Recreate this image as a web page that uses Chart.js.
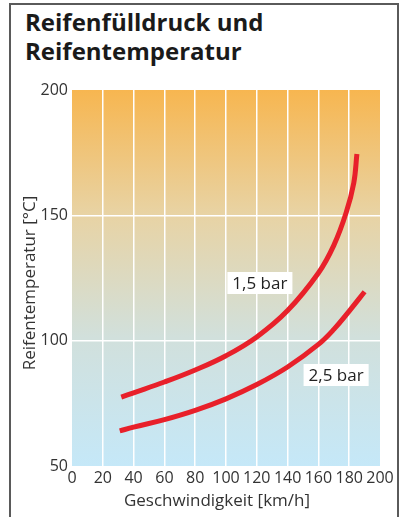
<!DOCTYPE html>
<html lang="de">
<head>
  <meta charset="UTF-8" />
  <title>Reifenfülldruck und Reifentemperatur</title>
  <script src="https://cdn.jsdelivr.net/npm/chart.js"></script>
  <style>
    html, body { margin: 0; padding: 0; background: #fff; overflow: hidden; }
    body { width: 404px; height: 517px; position: relative; font-family: "Open Sans", sans-serif; }
    .frame {
      position: absolute; left: 9px; top: 3px; width: 390px; height: 600px;
      border: 2px solid #5a5a5a; box-sizing: border-box;
    }
    h1 {
      position: absolute; left: 25px; top: 7px; margin: 0;
      font: bold 24px/29px "Open Sans", sans-serif; color: #1a1a1a;
    }
    canvas { position: absolute; left: 0; top: 0; }
  </style>
</head>
<body>
  <div class="frame"></div>
  <h1>Reifenfülldruck und<br>Reifentemperatur</h1>
  <canvas id="tyreChart" width="404" height="517"></canvas>

  <script>
    // values
    const speed15 = [32, 40, 60, 80, 100, 120, 140, 160, 170, 178, 183, 185];
    const temp15 = [77.5, 79.2, 83.5, 88.3, 94, 101.5, 112, 127, 138, 151, 163, 174.5];
    const speed25 = [31, 40, 60, 80, 100, 120, 140, 160, 170, 180, 190];
    const temp25 = [64, 65.5, 68.5, 72.2, 76.8, 82.5, 89.5, 98.5, 104.5, 111.8, 119.5];
    const seriesNames = ['1,5 bar', '2,5 bar'];
    const xTicks = [0, 20, 40, 60, 80, 100, 120, 140, 160, 180, 200];
    const yTicks = [50, 100, 150, 200];

    const toPoints = (xs, ys) => xs.map((x, i) => ({ x: x, y: ys[i] }));
    const tickFont = { family: 'Open Sans', size: 16 };

    // gradient background + axis titles + series labels
    const decor = {
      id: 'decor',
      beforeDraw(chart) {
        const { ctx, chartArea: a } = chart;
        const g = ctx.createLinearGradient(0, a.top, 0, a.bottom);
        g.addColorStop(0, '#f7b650');
        g.addColorStop(0.33, '#e8d3a4');
        g.addColorStop(0.66, '#d1e0dc');
        g.addColorStop(1, '#c5e8f8');
        ctx.save();
        ctx.fillStyle = g;
        ctx.fillRect(a.left, a.top, a.right - a.left, a.bottom - a.top);
        ctx.restore();
      },
      afterDraw(chart) {
        const { ctx, scales } = chart;
        ctx.save();
        ctx.fillStyle = '#333';
        ctx.font = '17px "Open Sans"';
        ctx.textAlign = 'center';
        ctx.textBaseline = 'middle';
        ctx.fillText('Geschwindigkeit [km/h]', 217, 501);
        ctx.translate(30, 283);
        ctx.rotate(-Math.PI / 2);
        ctx.fillText('Reifentemperatur [°C]', 0, 0);
        ctx.restore();

        const tags = [[seriesNames[0], 122, 123], [seriesNames[1], 171.5, 86.3]];
        ctx.save();
        ctx.font = '17px "Open Sans"';
        ctx.textAlign = 'center';
        ctx.textBaseline = 'middle';
        tags.forEach(([txt, xv, yv]) => {
          const px = scales.x.getPixelForValue(xv);
          const py = scales.y.getPixelForValue(yv);
          const w = ctx.measureText(txt).width + 10;
          ctx.fillStyle = '#fff';
          ctx.fillRect(px - w / 2, py - 11, w, 22);
          ctx.fillStyle = '#222';
          ctx.fillText(txt, px, py + 1);
        });
        ctx.restore();
      }
    };

    const gridColor = c => (c.index === 0 || c.index === c.chart.scales[c.scale.id].ticks.length - 1) ? 'rgba(0,0,0,0)' : '#ffffff';

    new Chart(document.getElementById('tyreChart'), {
      type: 'line',
      data: {
        datasets: [
          { label: seriesNames[0], data: toPoints(speed15, temp15) },
          { label: seriesNames[1], data: toPoints(speed25, temp25) }
        ]
      },
      options: {
        responsive: false,
        animation: false,
        layout: { padding: { top: 90, right: 24, left: 0, bottom: 0 } },
        elements: {
          line: { borderColor: '#e8202a', borderWidth: 5, tension: 0.4, borderCapStyle: 'butt' },
          point: { radius: 0 }
        },
        plugins: { legend: { display: false }, tooltip: { enabled: false } },
        scales: {
          x: {
            type: 'linear', min: 0, max: 200,
            afterFit: s => { s.height = 51; },
            afterBuildTicks: s => { s.ticks = xTicks.map(v => ({ value: v })); },
            grid: { color: gridColor, lineWidth: 1.5, drawTicks: false },
            border: { display: false },
            ticks: { color: '#333', font: tickFont, padding: 3, maxRotation: 0, autoSkip: false }
          },
          y: {
            type: 'linear', min: 50, max: 200,
            afterFit: s => { s.width = 72; },
            afterBuildTicks: s => { s.ticks = yTicks.map(v => ({ value: v })); },
            grid: { color: gridColor, lineWidth: 1.5, drawTicks: false },
            border: { display: false },
            ticks: { color: '#333', font: tickFont, padding: 4 }
          }
        }
      },
      plugins: [decor]
    });
  </script>
</body>
</html>
